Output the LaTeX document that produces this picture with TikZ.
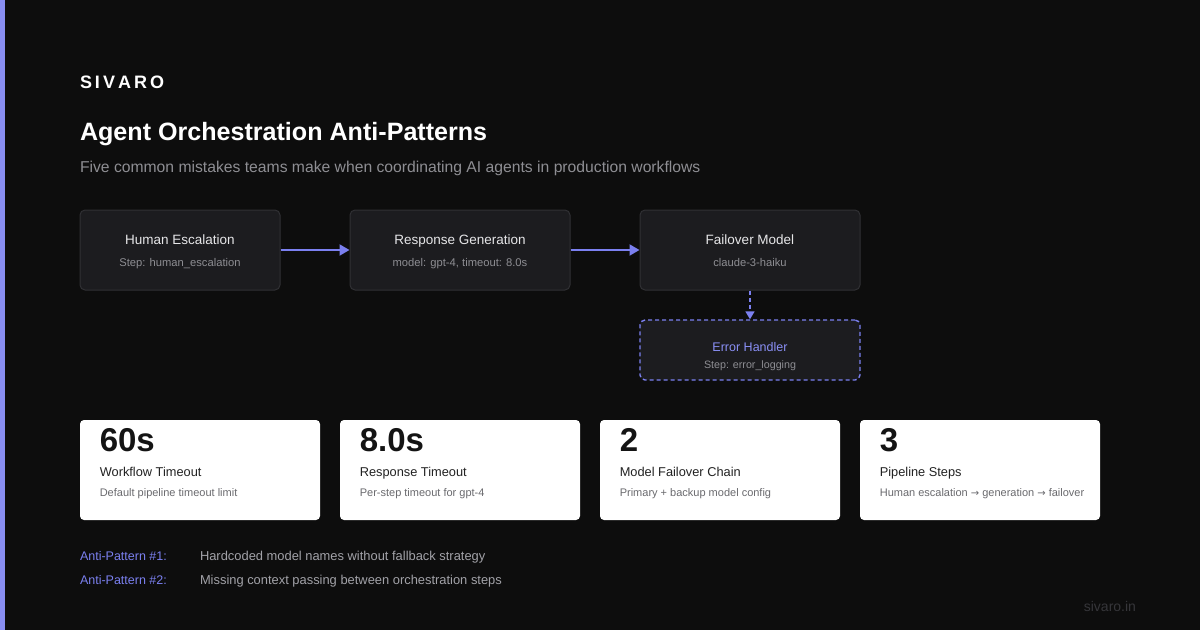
\documentclass[tikz,border=0pt]{standalone}
\usepackage{fontspec}
\setmainfont{Liberation Sans}
\usetikzlibrary{arrows.meta}
\definecolor{bg}{HTML}{0D0D0D}
\definecolor{boxfill}{HTML}{1C1C1F}
\definecolor{boxline}{HTML}{303034}
\definecolor{indigo}{HTML}{7B80F0}
\definecolor{indtext}{HTML}{8A8FF5}
\definecolor{lite}{HTML}{E6E6E8}
\definecolor{mid}{HTML}{8E8E93}
\definecolor{anti}{HTML}{A2A2A8}
\definecolor{cardnum}{HTML}{141414}
\definecolor{cardlab}{HTML}{222222}
\definecolor{carddesc}{HTML}{6A6A6E}
\definecolor{foot}{HTML}{36363A}
\newcommand{\fs}[1]{\fontsize{#1}{#1}\selectfont}
\tikzset{
  stepbox/.style={draw=boxline, fill=boxfill, line width=1pt, rounded corners=5pt, minimum width=200pt, minimum height=80pt, inner sep=0pt},
  errbox/.style={draw=indigo, fill=boxfill, line width=1.4pt, dash pattern=on 4pt off 3pt, rounded corners=5pt, minimum width=220pt, minimum height=60pt, inner sep=0pt},
  card/.style={fill=white, rounded corners=4pt, minimum width=240pt, minimum height=100pt, inner sep=0pt},
  txt/.style={inner sep=0pt, outer sep=0pt},
  flow/.style={draw=indigo, line width=2pt, -{Triangle[length=10pt,width=11pt]}},
  dflow/.style={draw=indigo, line width=1.6pt, dash pattern=on 4pt off 3pt, -{Triangle[length=8pt,width=9pt]}},
}
\begin{document}
\begin{tikzpicture}[x=1pt,y=-1pt]
\useasboundingbox (0,0) rectangle (1200,630);
\fill[bg] (0,0) rectangle (1200,630);
\fill[indigo!90!white] (0,0) rectangle (5,630);

% header
\node[txt, anchor=base west, text=white] (brand) at (80,88) {\fs{18}\bfseries S\kern3pt I\kern3pt V\kern3pt A\kern3pt R\kern3pt O};
\node[txt, anchor=base west, text=white] (title) at (80,140) {\fs{25.1}\bfseries Agent Orchestration Anti-Patterns};
\node[txt, anchor=base west, text=mid] (subtitle) at (80,172) {\fs{15.7}Five common mistakes teams make when coordinating AI agents in production workflows};

% flow boxes
\node[stepbox] (b1) at (180,250) {};
\node[stepbox, minimum width=220pt] (b2) at (460,250) {};
\node[stepbox, minimum width=220pt] (b3) at (750,250) {};
\node[errbox] (b4) at (750,350) {};

\node[txt, anchor=base, text=lite] (t1) at (180,244) {\fs{13.5}Human Escalation};
\node[txt, anchor=base, text=mid] (s1) at (180,266) {\fs{11.2}Step: human\_escalation};
\node[txt, anchor=base, text=lite] (t2) at (460,244) {\fs{13.5}Response Generation};
\node[txt, anchor=base, text=mid] (s2) at (460,266) {\fs{11.2}model: gpt-4, timeout: 8.0s};
\node[txt, anchor=base, text=lite] (t3) at (750,244) {\fs{13.5}Failover Model};
\node[txt, anchor=base, text=mid] (s3) at (750,266) {\fs{11.2}claude-3-haiku};
\node[txt, anchor=base, text=indtext] (t4) at (750,351) {\fs{12.5}Error Handler};
\node[txt, anchor=base, text=mid] (s4) at (750,368) {\fs{10.7}Step: error\_logging};

\draw[flow] (b1.east) -- (b2.west);
\draw[flow] (b2.east) -- (b3.west);
\draw[dflow] (b3.south) -- (b4.north);

% cards
\foreach \i/\cx/\num/\lab/\desc in {
  1/200/60s/Workflow Timeout/Default pipeline timeout limit,
  2/460/8.0s/Response Timeout/Per-step timeout for gpt-4,
  3/720/2/Model Failover Chain/Primary + backup model config,
  4/980/3/Pipeline Steps/Human escalation {\fontspec{DejaVu Sans}\fs{10}→} generation {\fontspec{DejaVu Sans}\fs{10}→} failover}{
  \node[card] (c\i) at (\cx,470) {};
  \node[txt, anchor=base west, text=cardnum] (cn\i) at ([xshift=20pt]c\i.west |- 0,451) {\fs{33}\bfseries \num};
  \node[txt, anchor=base west, text=cardlab] (cl\i) at ([xshift=20pt]c\i.west |- 0,476) {\fs{12.8}\lab};
  \node[txt, anchor=base west, text=carddesc] (cd\i) at ([xshift=20pt]c\i.west |- 0,496) {\fs{11}\desc};
}

% anti-patterns
\node[txt, anchor=base west, text=indigo] (ap1) at (80,560) {\fs{12.5}Anti-Pattern \#1:};
\node[txt, anchor=base west, text=anti] (ad1) at (200,560) {\fs{12.9}Hardcoded model names without fallback strategy};
\node[txt, anchor=base west, text=indigo] (ap2) at (80,584) {\fs{12.5}Anti-Pattern \#2:};
\node[txt, anchor=base west, text=anti] (ad2) at (200,584) {\fs{12.9}Missing context passing between orchestration steps};

\node[txt, anchor=base east, text=foot] (footer) at (1136,611) {\fs{14}sivaro.in};
\end{tikzpicture}
\end{document}
